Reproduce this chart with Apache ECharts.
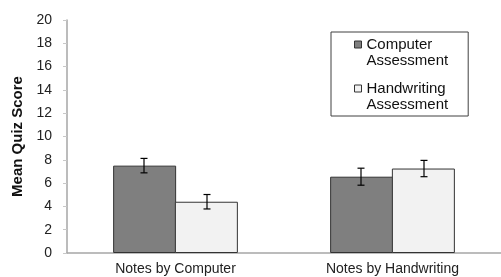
<!DOCTYPE html>
<html>
<head>
<meta charset="utf-8">
<script src="https://cdn.jsdelivr.net/npm/echarts@6/dist/echarts.min.js"></script>
<style>
  html, body { margin: 0; padding: 0; background: #fff; }
  #chart { width: 501px; height: 277px; }
</style>
</head>
<body>
<div id="chart"></div>
<script>
var categories = ['Notes by Computer', 'Notes by Handwriting'];
var seriesNames = ['Computer Assessment', 'Handwriting Assessment'];
var computerAssess = [7.5, 6.55];
var computerErr = [0.62, 0.73];
var handAssess = [4.4, 7.25];
var handErr = [0.62, 0.7];
var yTicks = { min: 0, max: 20, step: 2 };

var BAR_W = 63;
var font = 'Arial, "Liberation Sans", sans-serif';

function errData(means, errs) {
    var out = [];
    for (var i = 0; i < means.length; i++) {
        out.push([i, means[i] - errs[i], means[i] + errs[i]]);
    }
    return out;
}

// draws one error bar, shifted onto the centre of its bar
function errorItem(offset) {
    return function (params, api) {
        var lo = api.coord([api.value(0), api.value(1)]);
        var hi = api.coord([api.value(0), api.value(2)]);
        var cx = lo[0] + offset;
        var cap = 3.5;
        var st = { stroke: '#000', lineWidth: 1.2 };
        return {
            type: 'group',
            children: [
                { type: 'line', shape: { x1: cx, y1: hi[1], x2: cx, y2: lo[1] }, style: st },
                { type: 'line', shape: { x1: cx - cap, y1: hi[1], x2: cx + cap, y2: hi[1] }, style: st },
                { type: 'line', shape: { x1: cx - cap, y1: lo[1], x2: cx + cap, y2: lo[1] }, style: st }
            ]
        };
    };
}

var chart = echarts.init(document.getElementById('chart'));

var option = {
    animation: false,
    textStyle: { fontFamily: font },
    grid: { left: 67, top: 20, width: 438, bottom: 24, containLabel: false },
    legend: {
        data: seriesNames,
        orient: 'vertical',
        left: 331,
        top: 32,
        itemWidth: 7,
        itemHeight: 32,
        itemGap: 11,
        padding: [4, 20, 3, 23],
        borderColor: '#404040',
        borderWidth: 1,
        icon: 'path://M0,4.5L7,4.5L7,11.5L0,11.5Z M0,0Z M7,32Z',
        itemStyle: { borderColor: '#333', borderWidth: 1 },
        formatter: function (name) { return name.replace(' ', '\n'); },
        textStyle: { fontFamily: font, fontSize: 15, lineHeight: 16, color: '#111' }
    },
    xAxis: {
        type: 'category',
        data: categories,
        axisLine: { lineStyle: { color: '#a6a6a6', width: 1.5 } },
        axisTick: { length: 4, lineStyle: { color: '#a6a6a6' } },
        axisLabel: { fontFamily: font, fontSize: 14, color: '#222', margin: 9 }
    },
    yAxis: {
        type: 'value',
        min: yTicks.min,
        max: yTicks.max,
        interval: yTicks.step,
        name: 'Mean Quiz Score',
        nameLocation: 'middle',
        nameGap: 42,
        nameTextStyle: { fontFamily: font, fontSize: 15, fontWeight: 'bold', color: '#111' },
        axisLine: { show: true, lineStyle: { color: '#a6a6a6', width: 1.5 } },
        axisTick: { show: true, length: 4, lineStyle: { color: '#c8c8c8' } },
        splitLine: { show: false },
        axisLabel: { fontFamily: font, fontSize: 14, color: '#222', margin: 15 }
    },
    series: [
        {
            name: seriesNames[0],
            type: 'bar',
            data: computerAssess,
            barWidth: BAR_W,
            barGap: '-2%',
            itemStyle: { color: '#7f7f7f', borderColor: '#333', borderWidth: 1 }
        },
        {
            name: seriesNames[1],
            type: 'bar',
            data: handAssess,
            barWidth: BAR_W,
            barGap: '-2%',
            itemStyle: { color: '#f2f2f2', borderColor: '#333', borderWidth: 1 }
        },
        {
            name: 'err1',
            type: 'custom',
            renderItem: errorItem(-BAR_W / 2),
            encode: { x: 0, y: [1, 2] },
            data: errData(computerAssess, computerErr),
            z: 10
        },
        {
            name: 'err2',
            type: 'custom',
            renderItem: errorItem(BAR_W / 2),
            encode: { x: 0, y: [1, 2] },
            data: errData(handAssess, handErr),
            z: 10
        }
    ]
};

chart.setOption(option);
</script>
</body>
</html>
